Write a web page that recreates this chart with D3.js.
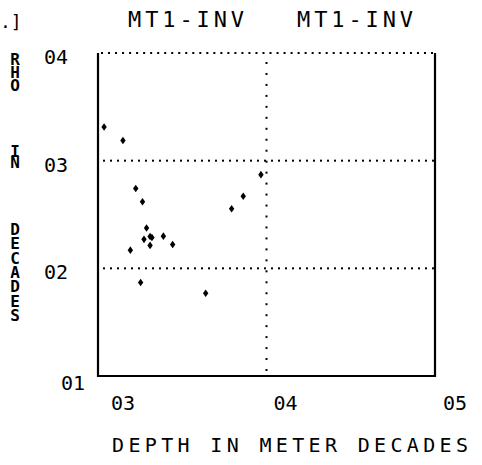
<!DOCTYPE html>
<html>
<head>
<meta charset="utf-8">
<script src="https://cdn.jsdelivr.net/npm/d3@7"></script>
<style>
  body { margin: 0; background: #fff; }
  text { font-family: "DejaVu Sans Mono", monospace; fill: #000; }
  .ytitle { writing-mode: vertical-lr; text-orientation: upright; }
</style>
</head>
<body>
<svg id="chart"></svg>
<script>
// values (log10 decades)
const depth = [3.036, 3.148, 3.224, 3.264, 3.793, 3.862, 3.967, 3.288, 3.309, 3.273, 3.309, 3.320, 3.388, 3.443, 3.192, 3.253, 3.639];
const rho   = [3.312, 3.188, 2.741, 2.618, 2.553, 2.669, 2.870, 2.375, 2.296, 2.269, 2.213, 2.287, 2.299, 2.222, 2.169, 1.868, 1.769];
const xTicks = [3, 4, 5];
const yTicks = [1, 2, 3, 4];
const xTickLabels = ['03', '04', '05'];
const yTickLabels = ['01', '02', '03', '04'];
const titles = ['MT1-INV', 'MT1-INV'];
const yTitleWords = ['RHO', 'IN', 'DECADES'];

const width = 482, height = 465;
const margin = {top: 53, right: 47, bottom: 89, left: 98};

const svg = d3.select('#chart')
    .attr('width', width)
    .attr('height', height);

const xScale = d3.scaleLinear().domain([3, 5]).range([margin.left, width - margin.right]);
const yScale = d3.scaleLinear().domain([1, 4]).range([height - margin.bottom, margin.top]);

const data = depth.map((d, i) => ({x: d, y: rho[i]}));

// dotted helper: draw small dots along a line
function dottedLine(x1, y1, x2, y2, step) {
    const len = Math.hypot(x2 - x1, y2 - y1);
    const n = Math.floor(len / step);
    const pts = d3.range(n + 1).map(i => [x1 + (x2 - x1) * i / n, y1 + (y2 - y1) * i / n]);
    svg.append('g').selectAll('rect')
        .data(pts)
        .join('rect')
        .attr('x', d => d[0] - 1)
        .attr('y', d => d[1] - 1)
        .attr('width', 2)
        .attr('height', 2)
        .attr('fill', '#000');
}

// top border (dotted) and horizontal grid
dottedLine(xScale(3) + 4, yScale(4), xScale(5) - 3, yScale(4), 7);
yTicks.filter(t => t > 1 && t < 4).forEach(t => {
    dottedLine(xScale(3) + 6, yScale(t), xScale(5) - 2, yScale(t), 7);
});
// vertical grid at 04
dottedLine(xScale(4), yScale(4) + 10, xScale(4), yScale(1) - 6, 10.7);

// solid frame: left, bottom, right
svg.append('path')
    .attr('d', `M${xScale(3)},${yScale(4)} L${xScale(3)},${yScale(1)} L${xScale(5)},${yScale(1)} L${xScale(5)},${yScale(4)}`)
    .attr('fill', 'none')
    .attr('stroke', '#000')
    .attr('stroke-width', 2.2);

// data points, small diamonds
svg.append('g').selectAll('.point')
    .data(data)
    .join('path')
    .attr('class', 'point')
    .attr('transform', d => `translate(${xScale(d.x)},${yScale(d.y)})`)
    .attr('d', 'M0,-3.8L2.7,0L0,3.8L-2.7,0Z')
    .attr('fill', '#000');

// x tick labels
svg.append('g').selectAll('text')
    .data(xTicks)
    .join('text')
    .attr('x', (d, i) => xScale(d) + [25, 19, 20][i])
    .attr('y', 410)
    .attr('text-anchor', 'middle')
    .attr('font-size', 20)
    .text((d, i) => xTickLabels[i]);

// y tick labels
svg.append('g').selectAll('text')
    .data(yTicks)
    .join('text')
    .attr('x', d => d === 1 ? 73 : 56)
    .attr('y', d => d === 1 ? 390 : yScale(d) + 11)
    .attr('text-anchor', 'middle')
    .attr('font-size', 20)
    .text((d, i) => yTickLabels[i]);

// x axis title
svg.append('text')
    .attr('x', 112)
    .attr('y', 452)
    .attr('font-size', 20)
    .attr('textLength', 356)
    .attr('lengthAdjust', 'spacing')
    .text('DEPTH IN METER DECADES');

// chart titles
svg.selectAll('.title')
    .data(titles)
    .join('text')
    .attr('class', 'title')
    .attr('x', (d, i) => [128, 297][i])
    .attr('y', 27)
    .attr('font-size', 22)
    .attr('textLength', 116)
    .attr('lengthAdjust', 'spacing')
    .text(d => d);

svg.append('text')
    .attr('x', 0)
    .attr('y', 28)
    .attr('font-size', 18)
    .text('.]');

// vertical y axis title, upright stacked letters; each word lines up with a tick label
const step = 15;
const fs = 16;
const anchorRow = [0, 1, 3];          // letter of each word level with a tick
const anchorTick = [4, 3, 2];
svg.append('g').selectAll('text')
    .data(yTitleWords)
    .join('text')
    .attr('class', 'ytitle')
    .attr('font-size', fs)
    .attr('font-weight', 'bold')
    .attr('textLength', w => w.length * step)
    .attr('lengthAdjust', 'spacing')
    .attr('x', 15)
    .attr('y', (w, wi) => yScale(anchorTick[wi]) + 4 - anchorRow[wi] * step - step / 2)
    .text(w => w);
</script>
</body>
</html>
